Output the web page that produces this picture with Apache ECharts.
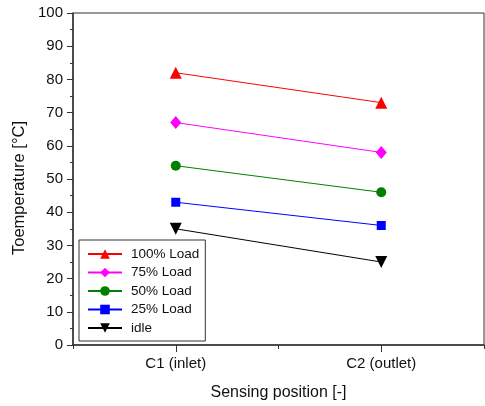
<!DOCTYPE html>
<html><head><meta charset="utf-8">
<script src="https://cdn.jsdelivr.net/npm/echarts@6/dist/echarts.min.js"></script>
<style>html,body{margin:0;padding:0;background:#fff}#c{width:485px;height:406px}</style>
</head><body><div id="c"></div>
<script>
const categories = ['C1 (inlet)', 'C2 (outlet)'];
const seriesNames = ['100% Load', '75% Load', '50% Load', '25% Load', 'idle'];
const load100 = [82, 73];
const load75 = [67, 58];
const load50 = [54, 46];
const load25 = [43, 36];
const idle = [35, 25];
const yTicks = [0, 10, 20, 30, 40, 50, 60, 70, 80, 90, 100];

const values = [load100, load75, load50, load25, idle];
const colors = ['#ff0000', '#ff00ff', '#008000', '#0000ff', '#000000'];
const symbols = ['triangle', 'diamond', 'circle', 'rect', 'triangle'];
const sizes = [12, [11, 13], 10, 9, 12];
const rotates = [0, 0, 0, 0, 180];
const font = 'Liberation Sans, Arial, sans-serif';

const chart = echarts.init(document.getElementById('c'));
chart.setOption({
  animation: false,
  grid: {left: 73, top: 13, right: 1, bottom: 61, show: true, borderColor: '#333', borderWidth: 1},
  xAxis: [{
    type: 'value', min: 0.5, max: 2.5, interval: 0.5, position: 'bottom',
    name: 'Sensing position [-]', nameLocation: 'middle', nameGap: 40,
    nameTextStyle: {fontFamily: font, fontSize: 16, color: '#111'},
    axisLine: {show: true, lineStyle: {color: '#333', width: 1.5}},
    axisTick: {show: true, length: 4, lineStyle: {color: '#333'}},
    splitLine: {show: false},
    axisLabel: {show: false}
  }, {
    type: 'category', data: categories, position: 'bottom', boundaryGap: true,
    axisLine: {show: false},
    axisTick: {show: true, alignWithLabel: true, length: 7, lineStyle: {color: '#333'}},
    splitLine: {show: false},
    axisLabel: {margin: 11, fontFamily: font, fontSize: 15, color: '#111'}
  }],
  yAxis: {
    type: 'value', min: 0, max: 100, interval: 10,
    axisLine: {show: true, lineStyle: {color: '#333', width: 1.5}},
    axisTick: {show: true, length: 6, lineStyle: {color: '#333'}},
    minorTick: {show: true, splitNumber: 2, length: 3, lineStyle: {color: '#333'}},
    splitLine: {show: false},
    axisLabel: {margin: 10, fontFamily: font, fontSize: 15, color: '#111',
      formatter: v => yTicks.includes(v) ? String(v) : ''}
  },
  graphic: [{
    type: 'text', x: 19, y: 188, rotation: Math.PI / 2,
    style: {text: 'Toemperature [°C]', fontFamily: font, fontSize: 16.5, fill: '#111',
      align: 'center', verticalAlign: 'middle'}
  }],
  legend: {
    orient: 'vertical', left: 79, top: 240,
    padding: [7, 6, 6, 8], itemGap: 4.5, itemWidth: 34, itemHeight: 12,
    borderColor: '#333', borderWidth: 1,
    textStyle: {fontFamily: font, fontSize: 13.5, color: '#111', padding: [0, 0, 0, 4]},
    data: seriesNames
  },
  series: seriesNames.map((n, i) => ({
    name: n, type: 'line', xAxisIndex: 0,
    data: values[i].map((v, j) => [j + 1, v]),
    symbol: symbols[i], symbolSize: sizes[i], symbolRotate: rotates[i],
    itemStyle: {color: colors[i]},
    lineStyle: {color: colors[i], width: 1}
  }))
});
</script></body></html>
